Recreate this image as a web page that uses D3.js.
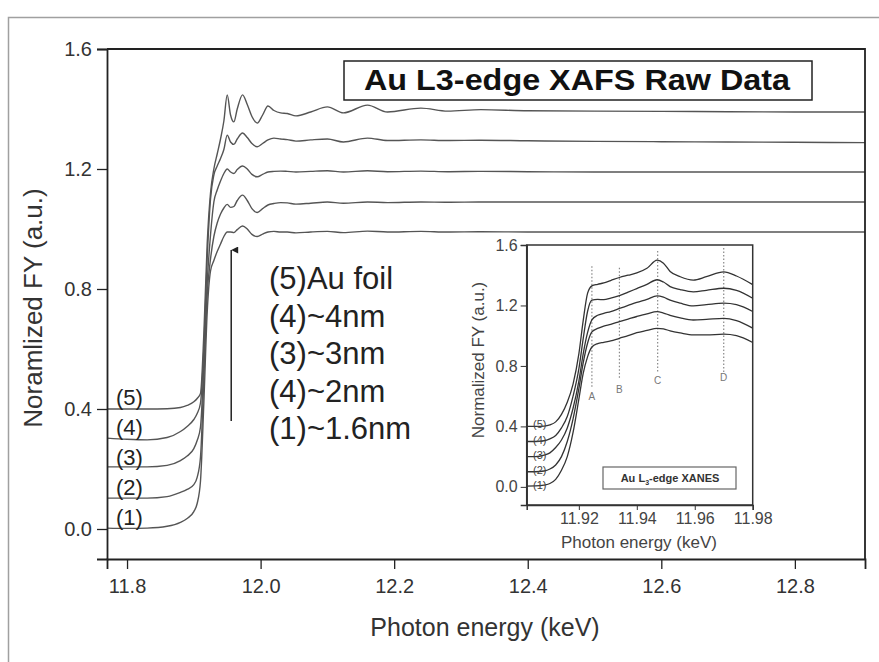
<!DOCTYPE html>
<html>
<head>
<meta charset="utf-8">
<script src="https://cdn.jsdelivr.net/npm/d3@7"></script>
<style>
  body { margin: 0; background: #fff; }
  svg { display: block; font-family: "Liberation Sans", Arial, sans-serif; }
</style>
</head>
<body>
<svg id="chart" width="879" height="662"></svg>
<script>
// ---- main plot data (keV, normalized FY) ----
var mainEnergy = [11.77, 11.80, 11.83, 11.86, 11.88, 11.89, 11.90, 11.905, 11.91, 11.915, 11.92, 11.925, 11.93, 11.935, 11.94, 11.945, 11.95, 11.955, 11.96, 11.965, 11.973, 11.98, 11.987, 11.995, 12.003, 12.011, 12.02, 12.03, 12.04, 12.053, 12.075, 12.10, 12.124, 12.16, 12.19, 12.24, 12.28, 12.33, 12.40, 12.50, 12.60, 12.70, 12.80, 12.905];
var main1 = [0.003, 0.002, 0.003, 0.009, 0.022, 0.035, 0.058, 0.085, 0.16, 0.42, 0.72, 0.86, 0.895, 0.925, 0.95, 0.975, 0.99, 0.99, 0.988, 0.998, 1.01, 1.0, 0.982, 0.975, 0.983, 0.99, 0.992, 0.99, 0.99, 0.987, 0.99, 0.992, 0.988, 0.993, 0.99, 0.992, 0.99, 0.991, 0.99, 0.99, 0.99, 0.99, 0.99, 0.99];
var main2 = [0.103, 0.103, 0.103, 0.108, 0.122, 0.132, 0.148, 0.172, 0.24, 0.5, 0.78, 0.9, 0.975, 1.02, 1.05, 1.07, 1.082, 1.072, 1.075, 1.095, 1.113, 1.095, 1.068, 1.055, 1.068, 1.08, 1.085, 1.088, 1.087, 1.083, 1.086, 1.09, 1.086, 1.09, 1.088, 1.09, 1.089, 1.09, 1.09, 1.09, 1.09, 1.09, 1.09, 1.09];
var main3 = [0.207, 0.207, 0.207, 0.212, 0.228, 0.243, 0.268, 0.295, 0.34, 0.55, 0.82, 0.98, 1.09, 1.13, 1.16, 1.185, 1.2, 1.19, 1.185, 1.198, 1.21, 1.2, 1.182, 1.174, 1.182, 1.19, 1.192, 1.193, 1.192, 1.19, 1.192, 1.194, 1.19, 1.194, 1.191, 1.193, 1.191, 1.192, 1.191, 1.19, 1.19, 1.19, 1.19, 1.19];
var main4 = [0.303, 0.299, 0.297, 0.305, 0.325, 0.342, 0.365, 0.385, 0.42, 0.6, 0.9, 1.1, 1.18, 1.21, 1.235, 1.265, 1.313, 1.29, 1.282, 1.3, 1.32, 1.305, 1.285, 1.274, 1.285, 1.297, 1.303, 1.3, 1.298, 1.293, 1.297, 1.3, 1.29, 1.303, 1.295, 1.297, 1.295, 1.296, 1.294, 1.292, 1.291, 1.29, 1.289, 1.288];
var main5 = [0.4, 0.4, 0.4, 0.401, 0.405, 0.412, 0.424, 0.435, 0.452, 0.65, 0.95, 1.12, 1.2, 1.25, 1.3, 1.36, 1.447, 1.38, 1.357, 1.4, 1.447, 1.415, 1.375, 1.353, 1.38, 1.41, 1.395, 1.387, 1.385, 1.377, 1.39, 1.407, 1.387, 1.413, 1.39, 1.403, 1.393, 1.398, 1.394, 1.393, 1.392, 1.391, 1.39, 1.39];
var mainSeries = [main1, main2, main3, main4, main5];
var curveLabels = ["(1)", "(2)", "(3)", "(4)", "(5)"];
var curveLevels = [0.0, 0.1, 0.2, 0.3, 0.4];
var legendLines = ["(5)Au foil", "(4)~4nm", "(3)~3nm", "(4)~2nm", "(1)~1.6nm"];
var mainXTicks = [11.8, 12.0, 12.2, 12.4, 12.6, 12.8];
var mainYTicks = [0.0, 0.4, 0.8, 1.2, 1.6];

// ---- inset data (XANES region) ----
var insetEnergy = [11.902, 11.905, 11.908, 11.91, 11.912, 11.914, 11.916, 11.918, 11.92, 11.9215, 11.923, 11.9245, 11.9265, 11.9286, 11.931, 11.934, 11.937, 11.94, 11.9435, 11.947, 11.9492, 11.9515, 11.955, 11.9595, 11.964, 11.97, 11.9744, 11.98];
var inset1 = [0.005, 0.006, 0.012, 0.022, 0.05, 0.11, 0.2, 0.36, 0.58, 0.75, 0.86, 0.925, 0.948, 0.956, 0.965, 0.983, 1.0, 1.02, 1.035, 1.049, 1.045, 1.032, 1.018, 1.005, 1.005, 1.01, 1.0, 0.955];
var inset2 = [0.10, 0.10, 0.105, 0.118, 0.145, 0.2, 0.3, 0.45, 0.65, 0.82, 0.95, 1.025, 1.048, 1.064, 1.075, 1.093, 1.11, 1.127, 1.145, 1.159, 1.15, 1.135, 1.118, 1.104, 1.108, 1.115, 1.1, 1.05];
var inset3 = [0.20, 0.20, 0.21, 0.225, 0.26, 0.31, 0.39, 0.52, 0.7, 0.88, 1.02, 1.105, 1.135, 1.148, 1.16, 1.18, 1.2, 1.22, 1.24, 1.263, 1.255, 1.235, 1.215, 1.197, 1.205, 1.215, 1.205, 1.16];
var inset4 = [0.30, 0.30, 0.305, 0.318, 0.34, 0.39, 0.465, 0.6, 0.78, 0.98, 1.16, 1.235, 1.24, 1.238, 1.248, 1.265, 1.288, 1.312, 1.34, 1.37, 1.355, 1.325, 1.305, 1.29, 1.3, 1.314, 1.3, 1.248];
var inset5 = [0.40, 0.40, 0.402, 0.41, 0.43, 0.48, 0.56, 0.68, 0.88, 1.1, 1.28, 1.33, 1.34, 1.349, 1.365, 1.385, 1.4, 1.415, 1.446, 1.5, 1.48, 1.425, 1.39, 1.368, 1.39, 1.422, 1.395, 1.338];
var insetSeries = [inset1, inset2, inset3, inset4, inset5];
var insetXTicks = [11.92, 11.94, 11.96, 11.98];
var insetYTicks = [0.0, 0.4, 0.8, 1.2, 1.6];
// feature markers A-D: energy, top, bottom, label level
var markerNames = ["A", "B", "C", "D"];
var markerEnergy = [11.9245, 11.934, 11.9472, 11.970];
var markerTop = [1.46, 1.45, 1.56, 1.58];
var markerBottom = [0.66, 0.71, 0.76, 0.76];
var markerLabelY = [0.6, 0.65, 0.71, 0.73];

var FONT = "'Liberation Sans', Arial, sans-serif";
var svg = d3.select("#chart");

// outer scan frame
svg.append("rect")
   .attr("x", 8.5).attr("y", 17.5)
   .attr("width", 880).attr("height", 660)
   .attr("fill", "none").attr("stroke", "#a0a0a0").attr("stroke-width", 1.5);

// ---------- main plot ----------
var x = d3.scaleLinear().domain([11.77, 12.905]).range([107, 865]);
var y = d3.scaleLinear().domain([-0.1, 1.6]).range([559, 49]);

svg.append("defs").append("clipPath").attr("id", "mainClip")
   .append("rect").attr("x", 107).attr("y", 49).attr("width", 758).attr("height", 510);

var line = d3.line()
  .x(function(d) { return x(d[0]); })
  .y(function(d) { return y(d[1]); })
  .curve(d3.curveMonotoneX);

svg.append("g").attr("clip-path", "url(#mainClip)")
   .selectAll("path").data(mainSeries).enter().append("path")
   .attr("d", function(s) { return line(mainEnergy.map(function(e, i) { return [e, s[i]]; })); })
   .attr("fill", "none").attr("stroke", "#555").attr("stroke-width", 1.4);

// frame top/right
svg.append("path")
   .attr("d", "M" + x.range()[0] + "," + y.range()[1] + "H" + x.range()[1] + "V" + y.range()[0])
   .attr("fill", "none").attr("stroke", "#222").attr("stroke-width", 1.8);

function minorTicks(lo, hi, step) {
  var out = [];
  for (var v = Math.ceil(lo / step - 1e-9); v * step <= hi + 1e-9; v++) out.push(+(v * step).toFixed(5));
  return out;
}

var xAxisG = svg.append("g").attr("class", "main").attr("transform", "translate(0," + y.range()[0] + ")");
xAxisG.call(d3.axisBottom(x).tickValues(minorTicks(11.78, 12.9, 0.02)).tickSize(6).tickFormat(""));
xAxisG.call(d3.axisBottom(x).tickValues(mainXTicks).tickSize(10).tickPadding(10).tickFormat(d3.format(".1f")));

var yAxisG = svg.append("g").attr("class", "main").attr("transform", "translate(" + x.range()[0] + ",0)");
yAxisG.call(d3.axisLeft(y).tickValues(minorTicks(-0.08, 1.6, 0.04)).tickSize(6).tickFormat(""));
yAxisG.call(d3.axisLeft(y).tickValues(mainYTicks).tickSize(10).tickPadding(5).tickFormat(d3.format(".1f")));

svg.selectAll(".main .domain").attr("stroke", "#222").attr("stroke-width", 1.8);
svg.selectAll(".main .tick line").attr("stroke", "#222").attr("stroke-width", 1.3);
svg.selectAll(".main .tick text").attr("font-size", 20).attr("fill", "#333").attr("font-family", FONT);

svg.append("text")
   .attr("x", 485).attr("y", 636)
   .attr("text-anchor", "middle").attr("font-size", 25).attr("fill", "#333")
   .text("Photon energy (keV)");

svg.append("text")
   .attr("transform", "translate(42,308) rotate(-90)")
   .attr("text-anchor", "middle").attr("font-size", 26).attr("fill", "#333")
   .text("Noramlized FY (a.u.)");

// curve labels (1)-(5)
svg.selectAll(".clabel").data(curveLabels).enter().append("text")
   .attr("class", "clabel")
   .attr("x", 116)
   .attr("y", function(d, i) { return y(curveLevels[i]) - 4; })
   .attr("font-size", 22).attr("fill", "#222")
   .text(function(d) { return d; });

// arrow
svg.append("defs").append("marker")
   .attr("id", "arrowHead").attr("viewBox", "0 0 10 10")
   .attr("refX", 5).attr("refY", 0).attr("markerWidth", 7).attr("markerHeight", 9)
   .attr("orient", "auto-start-reverse").attr("markerUnits", "userSpaceOnUse")
   .append("path").attr("d", "M0,10 L5,0 L10,10 Z").attr("fill", "#222");
svg.append("line")
   .attr("x1", x(11.956)).attr("x2", x(11.956))
   .attr("y1", y(0.36)).attr("y2", y(0.93))
   .attr("stroke", "#222").attr("stroke-width", 1.5)
   .attr("marker-end", "url(#arrowHead)");

// legend text block
svg.selectAll(".legline").data(legendLines).enter().append("text")
   .attr("class", "legline")
   .attr("x", 269)
   .attr("y", function(d, i) { return 289 + i * 37.5; })
   .attr("font-size", 31).attr("fill", "#222")
   .text(function(d) { return d; });

// title box
svg.append("rect")
   .attr("x", 344).attr("y", 61).attr("width", 468).attr("height", 39)
   .attr("fill", "#fff").attr("stroke", "#222").attr("stroke-width", 1.5);
svg.append("text")
   .attr("x", 577).attr("y", 90)
   .attr("text-anchor", "middle").attr("font-size", 29).attr("font-weight", "bold").attr("fill", "#111")
   .attr("textLength", 426).attr("lengthAdjust", "spacingAndGlyphs")
   .text("Au L3-edge XAFS Raw Data");

// ---------- inset ----------
var ix = d3.scaleLinear().domain([11.902, 11.98]).range([526.7, 752.7]);
var iy = d3.scaleLinear().domain([-0.12, 1.6]).range([505, 245]);

svg.append("rect")
   .attr("x", 526.7).attr("y", 245).attr("width", 226).attr("height", 260)
   .attr("fill", "#fff").attr("stroke", "#333").attr("stroke-width", 1.5);

var iline = d3.line()
  .x(function(d) { return ix(d[0]); })
  .y(function(d) { return iy(d[1]); })
  .curve(d3.curveMonotoneX);

// marker dotted lines
var mk = svg.append("g");
mk.selectAll("line").data(markerEnergy).enter().append("line")
  .attr("x1", function(d) { return ix(d); }).attr("x2", function(d) { return ix(d); })
  .attr("y1", function(d, i) { return iy(markerTop[i]); })
  .attr("y2", function(d, i) { return iy(markerBottom[i]); })
  .attr("stroke", "#888").attr("stroke-width", 1.2).attr("stroke-dasharray", "1.5,2");
mk.selectAll("text").data(markerNames).enter().append("text")
  .attr("x", function(d, i) { return ix(markerEnergy[i]); })
  .attr("y", function(d, i) { return iy(markerLabelY[i]) + 4; })
  .attr("text-anchor", "middle").attr("font-size", 10).attr("fill", "#777")
  .text(function(d) { return d; });

svg.append("g").selectAll("path").data(insetSeries).enter().append("path")
   .attr("d", function(s) { return iline(insetEnergy.map(function(e, i) { return [e, s[i]]; })); })
   .attr("fill", "none").attr("stroke", "#333").attr("stroke-width", 1.3);

// inset curve labels
svg.selectAll(".ilabel").data(curveLabels).enter().append("text")
   .attr("class", "ilabel")
   .attr("x", 533)
   .attr("y", function(d, i) { return iy(curveLevels[i]) + 2; })
   .attr("font-size", 11).attr("fill", "#444")
   .text(function(d) { return d; });

var ixG = svg.append("g").attr("class", "inset").attr("transform", "translate(0,505)");
ixG.call(d3.axisBottom(ix).tickValues(minorTicks(11.9025, 11.98, 0.0025)).tickSize(3).tickFormat(""));
ixG.call(d3.axisBottom(ix).tickValues(insetXTicks).tickSize(5).tickPadding(3).tickFormat(d3.format(".2f")));
var iyG = svg.append("g").attr("class", "inset").attr("transform", "translate(526.7,0)");
iyG.call(d3.axisLeft(iy).tickValues(minorTicks(-0.1, 1.6, 0.1)).tickSize(3).tickFormat(""));
iyG.call(d3.axisLeft(iy).tickValues(insetYTicks).tickSize(6).tickPadding(3).tickFormat(d3.format(".1f")));
svg.selectAll(".inset .domain").attr("stroke", "#333").attr("stroke-width", 1.5);
svg.selectAll(".inset .tick line").attr("stroke", "#333").attr("stroke-width", 1);
svg.selectAll(".inset .tick text").attr("font-size", 16).attr("fill", "#444").attr("font-family", FONT);

svg.append("text")
   .attr("x", 639).attr("y", 548)
   .attr("text-anchor", "middle").attr("font-size", 17).attr("fill", "#444")
   .text("Photon energy (keV)");
svg.append("text")
   .attr("transform", "translate(484,360) rotate(-90)")
   .attr("text-anchor", "middle").attr("font-size", 17).attr("fill", "#444")
   .text("Normalized FY (a.u.)");

// inset legend box
svg.append("rect")
   .attr("x", 603).attr("y", 467).attr("width", 133).attr("height", 22)
   .attr("fill", "#fff").attr("stroke", "#666").attr("stroke-width", 1.2);
var lt = svg.append("text")
   .attr("x", 670).attr("y", 482)
   .attr("text-anchor", "middle").attr("font-size", 11).attr("font-weight", "bold").attr("fill", "#333");
lt.append("tspan").text("Au L");
lt.append("tspan").attr("font-size", 7).attr("dy", 3).text("3");
lt.append("tspan").attr("dy", -3).text("-edge XANES");
</script>
</body>
</html>
